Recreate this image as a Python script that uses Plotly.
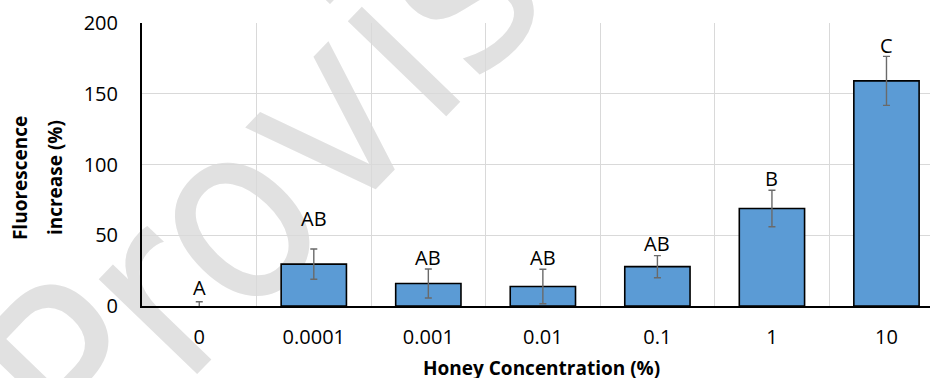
import plotly.graph_objects as go

# ---- data ----
concentrations = ["0", "0.0001", "0.001", "0.01", "0.1", "1", "10"]
fluorescence_increase = [0.0, 29.6, 15.9, 13.8, 27.8, 68.9, 159.1]
error_sd = [3.0, 10.7, 10.2, 12.2, 7.8, 12.9, 17.3]
group_letters = ["A", "AB", "AB", "AB", "AB", "B", "C"]
letter_height = [13.1, 61.5, 34.0, 34.0, 44.5, 89.8, 183.8]
y_ticks = [0, 50, 100, 150, 200]

FONT = "Open Sans"

# no outline for an empty (zero-height) bar
outline_w = [1.6 if v > 0 else 0 for v in fluorescence_increase]

fig = go.Figure()
fig.add_trace(go.Bar(
    x=concentrations,
    y=fluorescence_increase,
    width=0.57,
    marker=dict(color="#5B9BD5", line=dict(color="#000000", width=outline_w)),
    error_y=dict(type="data", array=error_sd, visible=True,
                 color="#6a6a6a", thickness=1.4, width=3.5),
    showlegend=False,
))

# significance letters (category index positions)
for i, (lab, yy) in enumerate(zip(group_letters, letter_height)):
    fig.add_annotation(x=i, y=yy, text=lab, showarrow=False,
                       xanchor="center", yanchor="middle",
                       font=dict(family=FONT, size=20, color="#000000"))

# axis titles (two-line y title, bold)
fig.add_annotation(xref="paper", yref="paper", x=0, y=0.452, xshift=-122,
                   text="<b>Fluorescence</b>", textangle=-90, showarrow=False,
                   xanchor="center", yanchor="middle",
                   font=dict(family=FONT, size=19, color="#000000"))
fig.add_annotation(xref="paper", yref="paper", x=0, y=0.452, xshift=-87,
                   text="<b>increase (%)</b>", textangle=-90, showarrow=False,
                   xanchor="center", yanchor="middle",
                   font=dict(family=FONT, size=19, color="#000000"))
fig.add_annotation(xref="paper", yref="paper", x=0.507, y=0, yshift=-62,
                   text="<b>Honey Concentration (%)</b>", showarrow=False,
                   xanchor="center", yanchor="middle",
                   font=dict(family=FONT, size=19, color="#000000"))

# watermark, drawn beneath the chart
fig.add_shape(type="rect", xref="paper", yref="paper",
              x0=0.36, x1=0.39, y0=1.15, y1=1.19,
              line=dict(width=0), fillcolor="rgba(0,0,0,0)", layer="below",
              label=dict(text="Provisional", textangle=-46,
                         textposition="middle center",
                         font=dict(family="Liberation Sans Narrow, DejaVu Sans Condensed, Open Sans",
                                   size=250, color="#e1e1e1")))

fig.update_layout(
    width=930, height=378,
    margin=dict(l=142, r=0, t=23, b=72),
    paper_bgcolor="white", plot_bgcolor="rgba(0,0,0,0)",
    font=dict(family=FONT, size=20, color="#000000"),
)
fig.update_xaxes(
    type="category", range=[-0.5, 6.38],
    tickson="boundaries", ticks="", showgrid=True,
    gridcolor="#d9d9d9", gridwidth=1,
    showline=True, linecolor="#000000", linewidth=1.6,
    tickfont=dict(family=FONT, size=20, color="#000000"),
    ticklabelstandoff=12,
)
fig.update_yaxes(
    range=[0, 200], tickvals=y_ticks, ticks="",
    showgrid=True, gridcolor="#d9d9d9", gridwidth=1, zeroline=False,
    showline=True, linecolor="#000000", linewidth=2,
    tickfont=dict(family=FONT, size=20, color="#000000"),
    ticklabelstandoff=18,
)

fig.write_html("out.html", config={"displayModeBar": False},
               post_script="document.body.style.margin='0';document.body.style.overflow='hidden';")
